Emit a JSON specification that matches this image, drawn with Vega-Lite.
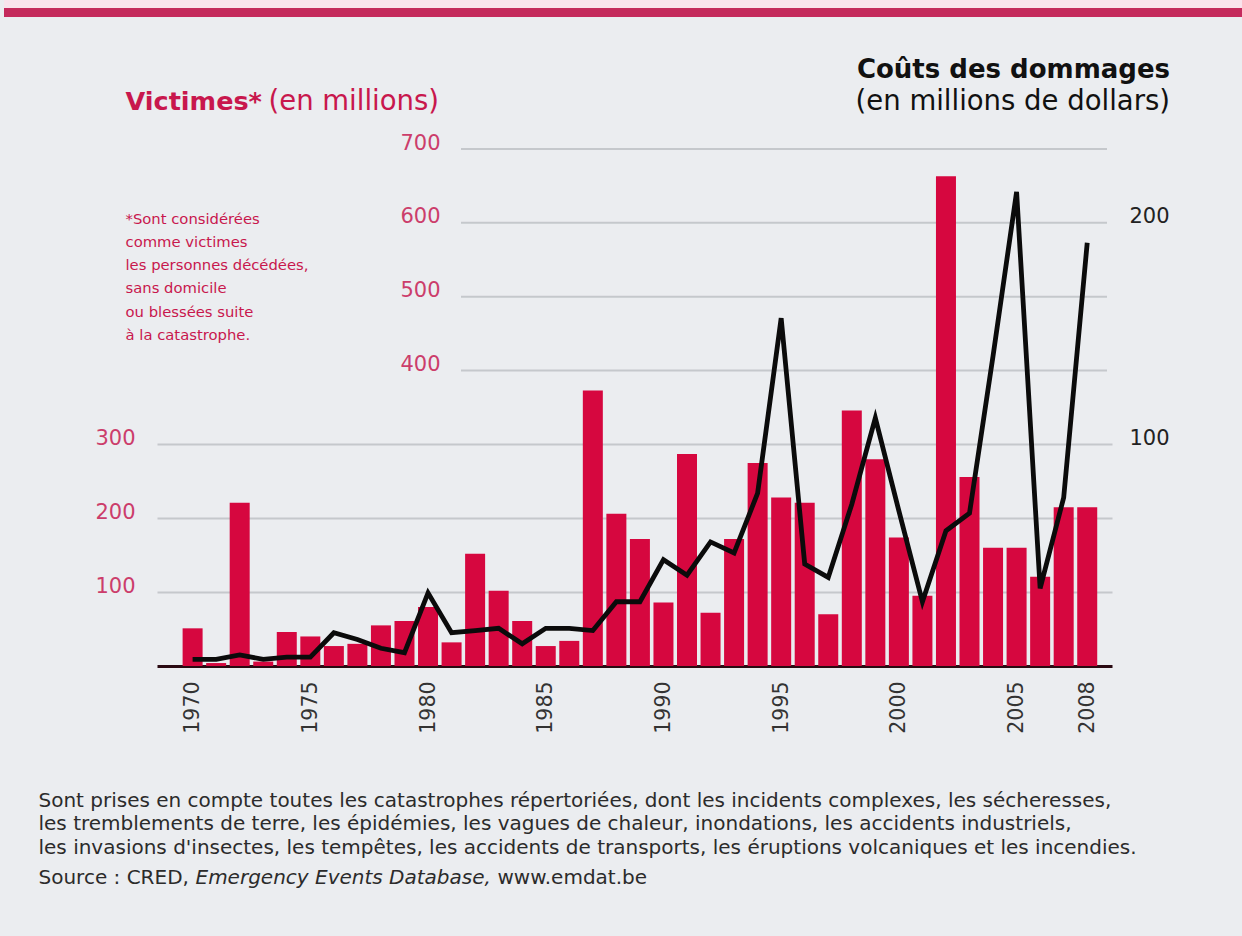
{
  "$schema": "https://vega.github.io/schema/vega-lite/v6.json",
  "width": 955,
  "height": 517,
  "autosize": {"type": "none"},
  "padding": {"left": 157, "top": 149, "right": 130, "bottom": 270},
  "background": "#ebedf0",
  "config": {
    "font": "DejaVu Sans",
    "view": {"stroke": null},
    "axis": {"labelFont": "DejaVu Sans", "titleFont": "DejaVu Sans"},
    "title": {"font": "DejaVu Sans", "subtitleFont": "DejaVu Sans"}
  },
  "title": {
    "text": "Coûts des dommages",
    "subtitle": "(en millions de dollars)",
    "anchor": "end",
    "frame": "group",
    "dx": 58,
    "dy": 116,
    "offset": 0,
    "fontSize": 26,
    "fontWeight": "bold",
    "color": "#111111",
    "subtitleFontSize": 27.5,
    "subtitleColor": "#111111",
    "subtitlePadding": 5.5
  },
  "data": {
    "values": [
      {"year": 1970, "victimes": 51, "cout": 3},
      {"year": 1971, "victimes": 4, "cout": 3},
      {"year": 1972, "victimes": 221, "cout": 5},
      {"year": 1973, "victimes": 6, "cout": 3},
      {"year": 1974, "victimes": 46, "cout": 4},
      {"year": 1975, "victimes": 40, "cout": 4},
      {"year": 1976, "victimes": 27, "cout": 15},
      {"year": 1977, "victimes": 30, "cout": 12},
      {"year": 1978, "victimes": 55, "cout": 8},
      {"year": 1979, "victimes": 61, "cout": 6},
      {"year": 1980, "victimes": 80, "cout": 33},
      {"year": 1981, "victimes": 32, "cout": 15},
      {"year": 1982, "victimes": 152, "cout": 16},
      {"year": 1983, "victimes": 102, "cout": 17},
      {"year": 1984, "victimes": 61, "cout": 10},
      {"year": 1985, "victimes": 27, "cout": 17},
      {"year": 1986, "victimes": 34, "cout": 17},
      {"year": 1987, "victimes": 373, "cout": 16},
      {"year": 1988, "victimes": 206, "cout": 29},
      {"year": 1989, "victimes": 172, "cout": 29},
      {"year": 1990, "victimes": 86, "cout": 48},
      {"year": 1991, "victimes": 287, "cout": 41},
      {"year": 1992, "victimes": 72, "cout": 56},
      {"year": 1993, "victimes": 172, "cout": 51},
      {"year": 1994, "victimes": 275, "cout": 78},
      {"year": 1995, "victimes": 228, "cout": 157},
      {"year": 1996, "victimes": 221, "cout": 46},
      {"year": 1997, "victimes": 70, "cout": 40},
      {"year": 1998, "victimes": 346, "cout": 73},
      {"year": 1999, "victimes": 280, "cout": 112},
      {"year": 2000, "victimes": 174, "cout": 70},
      {"year": 2001, "victimes": 95, "cout": 29},
      {"year": 2002, "victimes": 663, "cout": 61},
      {"year": 2003, "victimes": 256, "cout": 69},
      {"year": 2004, "victimes": 160, "cout": 140},
      {"year": 2005, "victimes": 160, "cout": 214},
      {"year": 2006, "victimes": 121, "cout": 35},
      {"year": 2007, "victimes": 215, "cout": 76},
      {"year": 2008, "victimes": 215, "cout": 191}
    ]
  },
  "layer": [
    {
      "data": {"values": [{"v": 400}, {"v": 500}, {"v": 600}, {"v": 700}]},
      "mark": {"type": "rule", "color": "#c5c8cc", "strokeWidth": 2},
      "encoding": {
        "y": {
          "field": "v", "type": "quantitative",
          "scale": {"domain": [0, 700]},
          "axis": {
            "orient": "left", "offset": -300, "values": [400, 500, 600, 700],
            "grid": false, "domain": false, "ticks": false,
            "labelPadding": 17, "labelFontSize": 21, "labelColor": "#cc3d6b", "labelBaseline": "alphabetic",
            "title": "(en millions)", "titleAngle": 0, "titleAlign": "left", "titleBaseline": "alphabetic",
            "titleX": -189, "titleY": -40, "titleFontSize": 27.5, "titleFontWeight": "normal", "titleColor": "#c8174d"
          }
        },
        "x": {
          "datum": 1981.4, "type": "quantitative",
          "scale": {"domain": [1968.7, 2008.84]},
          "axis": {
            "orient": "bottom", "labels": false, "ticks": false, "domain": false, "grid": false,
            "title": "Emergency Events Database,", "titleFontStyle": "italic",
            "titleX": 38, "titleY": 217, "titleAlign": "left", "titleBaseline": "alphabetic",
            "titleFontSize": 20, "titleFontWeight": "normal", "titleColor": "#2b2b2b"
          }
        },
        "x2": {"datum": 2008.84}
      }
    },
    {
      "mark": {"type": "bar", "width": 20, "color": "#d6073f"},
      "encoding": {
        "x": {
          "field": "year", "type": "quantitative",
          "scale": {"domain": [1968.7, 2008.84]},
          "axis": {
            "orient": "bottom",
            "values": [1970, 1975, 1980, 1985, 1990, 1995, 2000, 2005, 2008], "format": "d",
            "labelAngle": -90, "labelFontSize": 20.5, "labelColor": "#333333", "labelPadding": 15,
            "ticks": false, "domainColor": "#2a0a12", "domainWidth": 3, "grid": false,
            "title": [
              "Sont prises en compte toutes les catastrophes répertoriées, dont les incidents complexes, les sécheresses,",
              "les tremblements de terre, les épidémies, les vagues de chaleur, inondations, les accidents industriels,",
              "les invasions d'insectes, les tempêtes, les accidents de transports, les éruptions volcaniques et les incendies."
            ],
            "titleX": -119, "titleY": 140, "titleAlign": "left", "titleBaseline": "alphabetic",
            "titleFontSize": 20, "titleFontWeight": "normal", "titleColor": "#2b2b2b", "titleLineHeight": 23.5
          }
        },
        "y": {
          "field": "victimes", "type": "quantitative",
          "scale": {"domain": [0, 700]},
          "axis": {
            "orient": "left", "values": [100, 200, 300],
            "grid": true, "gridColor": "#c5c8cc", "gridWidth": 2,
            "domain": false, "ticks": false,
            "labelPadding": 22, "labelFontSize": 21, "labelColor": "#cc3d6b", "labelBaseline": "alphabetic",
            "title": "Victimes*", "titleAngle": 0, "titleAlign": "left", "titleBaseline": "alphabetic",
            "titleX": -32, "titleY": -40, "titleFontSize": 25.5, "titleFontWeight": "bold", "titleColor": "#c8174d"
          }
        }
      }
    },
    {
      "mark": {"type": "line", "color": "#0b0b0b", "strokeWidth": 4.8, "strokeJoin": "miter"},
      "encoding": {
        "x": {
          "field": "year", "type": "quantitative",
          "scale": {"domain": [1968.7, 2008.84]},
          "axis": {
            "orient": "bottom", "labels": false, "ticks": false, "domain": false, "grid": false,
            "title": "Source : CRED,",
            "titleX": -119, "titleY": 217, "titleAlign": "left", "titleBaseline": "alphabetic",
            "titleFontSize": 20, "titleFontWeight": "normal", "titleColor": "#2b2b2b"
          }
        },
        "y": {
          "field": "cout", "type": "quantitative",
          "scale": {"domain": [0, 233.33]},
          "axis": {
            "orient": "right", "values": [100, 200],
            "grid": false, "domain": false, "ticks": false,
            "labelPadding": 17, "labelFontSize": 21, "labelColor": "#222222", "labelBaseline": "alphabetic",
            "title": [
              "*Sont considérées",
              "comme victimes",
              "les personnes décédées,",
              "sans domicile",
              "ou blessées suite",
              "à la catastrophe."
            ],
            "titleAngle": 0, "titleAlign": "left", "titleBaseline": "alphabetic",
            "titleX": -987, "titleY": 74, "titleFontSize": 14.8, "titleFontWeight": "normal",
            "titleColor": "#c8174d", "titleLineHeight": 23.3
          }
        }
      }
    },
    {
      "mark": {"type": "rule", "color": "#c42a5c", "strokeWidth": 9},
      "encoding": {
        "y": {"datum": 885, "type": "quantitative", "scale": {"domain": [0, 700]}, "axis": null},
        "x": {
          "datum": 1962, "type": "quantitative",
          "scale": {"domain": [1968.7, 2008.84]},
          "axis": {
            "orient": "bottom", "labels": false, "ticks": false, "domain": false, "grid": false,
            "title": "www.emdat.be",
            "titleX": 340, "titleY": 217, "titleAlign": "left", "titleBaseline": "alphabetic",
            "titleFontSize": 20, "titleFontWeight": "normal", "titleColor": "#2b2b2b"
          }
        },
        "x2": {"datum": 2016}
      }
    },
    {
      "mark": {"type": "rule", "color": "#f9e3ec", "strokeWidth": 8},
      "encoding": {
        "y": {"datum": 897, "type": "quantitative", "scale": {"domain": [0, 700]}, "axis": null},
        "x": {"datum": 1962, "type": "quantitative", "scale": {"domain": [1968.7, 2008.84]}, "axis": null},
        "x2": {"datum": 2016}
      }
    }
  ],
  "resolve": {
    "scale": {"y": "independent"},
    "axis": {"x": "independent", "y": "independent"}
  }
}
